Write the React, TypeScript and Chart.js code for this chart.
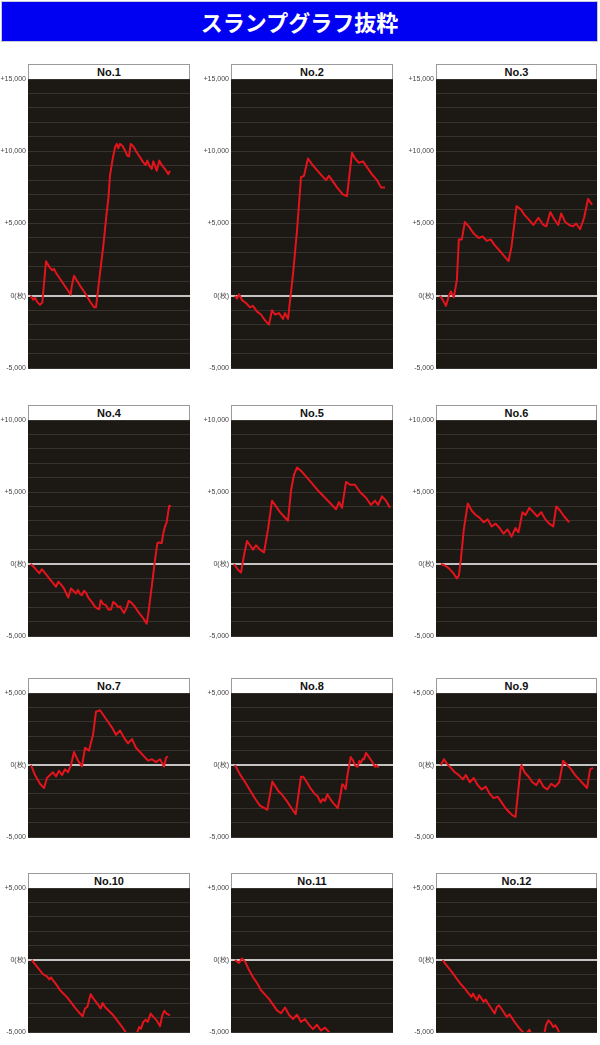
import React, { useEffect, useRef } from 'react';
import { Chart, registerables } from 'chart.js';

Chart.register(...registerables);

// ---------- DATA ----------
const HEADER_TEXT = 'スランプグラフ抜粋';
const PANEL_TITLES = ['No.1', 'No.2', 'No.3', 'No.4', 'No.5', 'No.6', 'No.7', 'No.8', 'No.9', 'No.10', 'No.11', 'No.12'];
// y range (枚) per row
const ROW_Y_MIN = [-5000, -5000, -5000, -5000];
const ROW_Y_MAX = [15000, 10000, 5000, 5000];
const Y_STEP = 1000;
const X_MAX = 162; // horizontal progress units across a plot

type Pt = [number, number];

const NO1: Pt[] = [[2.7,0],[5.3,-280],[7,-140],[9.3,-440],[12,-630],[14.3,-470],[18,2390],[22,1930],[24.3,1760],[26,1860],[28,1580],[30.3,1350],[42.7,70],[43.7,650],[46,1390],[48.7,1070],[52,700],[57,190],[62,-400],[66,-790],[68,-790],[69.3,-50],[72,1580],[75.3,3430],[78.7,5750],[80.3,6680],[82,8310],[84.7,9470],[87,10280],[88.7,10510],[90.3,10210],[92,10510],[94.7,10350],[97,10050],[99.3,9700],[101,9650],[102.7,10510],[105.3,10350],[108.7,9930],[112,9580],[115.3,9230],[117.7,9050],[119.3,9350],[121.3,9000],[123.7,8770],[125.3,9300],[127,9000],[128.7,8650],[131.3,9350],[133.7,9050],[137,8770],[140.3,8420],[142,8650]];
const NO2: Pt[] = [[4,0],[6,-200],[8,100],[11,-300],[15,-500],[19,-800],[22,-700],[26,-1100],[30,-1300],[34,-1700],[38,-2000],[41,-1000],[44,-1300],[48,-1200],[52,-1600],[54,-1200],[57,-1600],[62,1500],[66,4500],[70,8200],[73,8300],[77,9500],[81,9100],[86,8700],[91,8300],[95,8000],[98,8300],[101,8000],[106,7500],[112,7000],[116,6900],[121,9900],[124,9500],[128,9200],[132,9300],[137,8800],[141,8400],[146,8000],[150,7500],[154,7500]];
const NO3: Pt[] = [[4,0],[7,-300],[10,-700],[13,0],[15,300],[18,-100],[21,1100],[23,3900],[26,3900],[29,5100],[33,4800],[38,4300],[43,4000],[47,4100],[51,3800],[55,3900],[59,3500],[63,3200],[68,2800],[73,2400],[76,3400],[81,6200],[85,6000],[89,5600],[93,5300],[98,4900],[103,5400],[108,4900],[111,4800],[115,5800],[119,5300],[123,4900],[126,5700],[130,5100],[134,4900],[138,4800],[141,5000],[145,4600],[149,5400],[153,6700],[157,6300]];
const NO4: Pt[] = [[2.7,0],[7,-300],[11.3,-650],[13.7,-370],[15.3,-470],[18.7,-770],[22,-1070],[25.3,-1350],[28,-1580],[30.3,-1230],[32.7,-1400],[36,-1700],[40.3,-2330],[43,-1700],[45.3,-1860],[48,-2050],[50,-1810],[52,-2090],[54,-2160],[56,-1860],[58,-2000],[60.3,-2330],[63.7,-2630],[67,-2980],[69.3,-3090],[71.3,-3140],[72.7,-2510],[75.3,-2790],[78,-2860],[80.3,-3160],[83,-3160],[85.3,-2630],[88,-2790],[90.3,-3020],[92,-2930],[93.7,-3160],[96,-3400],[98.7,-3020],[100.7,-2560],[103.7,-2700],[107,-2980],[110.3,-3330],[113.7,-3630],[117,-3950],[118.7,-4140],[120.3,-3440],[123.7,-1580],[127,280],[129.3,1440],[131.3,1490],[133.7,1440],[135.3,2140],[137,2600],[138.7,2910],[140.3,3650],[141.3,4050],[143,4000]];
const NO5: Pt[] = [[3,0],[7,-400],[10,-600],[13,600],[16,1600],[19,1300],[22,1000],[25,1300],[29,1000],[33,800],[37,2400],[41,4400],[45,4000],[49,3600],[53,3300],[57,3000],[60,5100],[63,6200],[66,6700],[71,6400],[76,6000],[81,5600],[87,5100],[94,4600],[101,4100],[105,3800],[108,4300],[111,3900],[115,5700],[119,5500],[124,5500],[129,5000],[135,4600],[140,4100],[144,4400],[147,4100],[151,4700],[155,4400],[159,3900]];
const NO6: Pt[] = [[5,0],[9,-100],[13,-300],[17,-600],[21,-1000],[23,-800],[25,300],[28,2400],[32,4200],[36,3700],[40,3400],[44,3200],[48,2900],[52,3100],[56,2600],[60,2800],[64,2500],[68,2100],[72,2400],[76,1900],[80,2500],[83,2200],[87,3600],[90,3400],[94,3900],[98,3600],[102,3300],[106,3600],[110,3100],[114,2800],[118,2600],[121,4000],[125,3700],[129,3300],[134,2900]];
const NO7: Pt[] = [[3,0],[7,-700],[12,-1300],[16,-1600],[19,-900],[22,-700],[25,-500],[28,-800],[31,-400],[34,-700],[37,-300],[40,-500],[43,0],[46,900],[50,300],[54,-100],[57,1200],[61,1000],[65,2100],[68,3700],[72,3800],[76,3400],[80,3000],[84,2600],[88,2100],[92,2400],[96,1900],[100,1500],[104,1800],[108,1200],[112,900],[116,600],[120,300],[124,400],[128,200],[132,400],[136,-100],[138,500],[140,600]];
const NO8: Pt[] = [[4,0],[9,-650],[14,-1180],[19,-1750],[24,-2330],[29,-2830],[34,-3020],[36.3,-3110],[41.3,-1150],[44,-1450],[47.3,-1800],[50.7,-2030],[55.7,-2490],[60.7,-3020],[64.7,-3410],[70,-810],[72.3,-810],[75.7,-1180],[79,-1570],[84,-2030],[86.3,-2140],[89.7,-2600],[91.7,-2370],[94,-2490],[96.3,-2030],[99,-2330],[102.3,-2650],[106.7,-3000],[109,-2260],[111.3,-1340],[113,-1450],[114.7,-1680],[116.3,-760],[119.7,550],[122.3,280],[124.7,-70],[126.7,-120],[128.3,280],[130,160],[131.7,440],[133,390],[135,850],[137.3,620],[140.7,280],[144,-120],[145.7,-20],[147.3,-180]];
const NO9: Pt[] = [[5,0],[8,400],[11,100],[15,-200],[19,-500],[23,-700],[27,-1000],[30,-700],[34,-1200],[38,-900],[42,-1400],[46,-1700],[50,-1500],[54,-2000],[58,-2300],[62,-2200],[66,-2600],[70,-3000],[74,-3300],[77,-3500],[80,-3600],[85,-300],[86,0],[89,-500],[93,-800],[97,-1200],[101,-1400],[104,-1000],[108,-1500],[112,-1700],[116,-1300],[120,-1500],[124,-1200],[128,300],[132,0],[136,-300],[140,-700],[144,-1000],[148,-1300],[152,-1600],[155,-300],[158,-200]];
const NO10: Pt[] = [[3.7,0],[7,-280],[10.3,-580],[13.7,-880],[16.3,-1050],[18.7,-1120],[21.3,-1350],[23,-1210],[25.3,-1440],[28.7,-1740],[32,-2090],[35.3,-2330],[38.7,-2560],[42.7,-2910],[47,-3300],[52,-3720],[54.7,-3910],[57,-3370],[59.3,-3260],[62.7,-2370],[65.3,-2670],[68.7,-2980],[72.7,-3370],[74.7,-2980],[77,-3260],[80.3,-3490],[85.3,-3840],[90.3,-4300],[95.3,-4770],[98.7,-5120],[104,-5500],[109.3,-5000],[111.3,-4650],[113,-4770],[115.3,-4300],[117.7,-4140],[119.7,-4300],[122.7,-3720],[125.3,-3950],[128.7,-4190],[132,-4600],[134.3,-3840],[136.3,-3530],[138.7,-3720],[142,-3840]];
const NO11: Pt[] = [[4,0],[8,-200],[11,100],[14,-100],[18,-700],[22,-1200],[26,-1600],[30,-2100],[34,-2400],[38,-2700],[42,-3100],[46,-3500],[50,-3700],[54,-3300],[58,-3800],[62,-4100],[66,-3800],[70,-4300],[74,-4100],[78,-4500],[82,-4800],[86,-4500],[90,-4900],[94,-4700],[98,-5000],[102,-5500]];
const NO12: Pt[] = [[6.7,0],[9,-230],[12.3,-510],[15.7,-810],[19,-1120],[22.3,-1440],[25.7,-1740],[29,-1980],[32.3,-2280],[35.7,-2560],[37.3,-2330],[39,-2560],[41.3,-2790],[43.3,-2440],[45.7,-2670],[48,-2910],[50,-2740],[52.3,-3020],[55.7,-3370],[59,-3720],[61.3,-3260],[63.3,-3140],[65.7,-3370],[69,-3720],[71.3,-3950],[74,-3770],[75.7,-3950],[79,-4300],[82.3,-4600],[85.7,-4880],[89,-5120],[91.3,-5070],[94,-4840],[95.7,-5120],[103,-5500],[109,-5120],[110.7,-4530],[113,-4190],[115.7,-4370],[118,-4650],[120,-4530],[122.3,-4770],[124,-5070],[126,-5400]];

const SERIES: Pt[][] = [NO1, NO2, NO3, NO4, NO5, NO6, NO7, NO8, NO9, NO10, NO11, NO12];

// ---------- LAYOUT / STYLE ----------
const COL_LEFT = [28, 231, 436];
const COL_WIDTH = [162, 162, 161];
const ROW_TITLE_TOP = [64, 405, 678, 873];
const ROW_PLOT_TOP = [79, 420, 693, 888];
const ROW_PLOT_BOTTOM = [368, 636, 837, 1032];
const LABEL_W = 40;
const PAD = 8;
const BG = '#1c1814';
const GRID = '#37322e';
const ZERO = '#c4c4c4';
const RED = '#e3141c';

function fmtTick(v: number): string {
  if (v % 5000 !== 0) return '';
  if (v === 0) return '0(枚)';
  const s = Math.abs(v).toLocaleString('en-US');
  return (v > 0 ? '+' : '-') + s;
}

const bgPlugin = {
  id: 'plotBg',
  beforeDraw(chart: any) {
    const { ctx, chartArea: a } = chart;
    ctx.save();
    ctx.fillStyle = BG;
    ctx.fillRect(a.left, a.top, a.right - a.left, a.bottom - a.top);
    ctx.restore();
  },
};

function Panel({ idx }: { idx: number }) {
  const ref = useRef<HTMLCanvasElement>(null);
  const row = Math.floor(idx / 3);
  const col = idx % 3;
  const plotLeft = COL_LEFT[col];
  const plotW = COL_WIDTH[col];
  const plotTop = ROW_PLOT_TOP[row];
  const plotH = ROW_PLOT_BOTTOM[row] - plotTop;
  const cw = LABEL_W + plotW;
  const ch = plotH + PAD * 2;

  useEffect(() => {
    const chart = new Chart(ref.current as HTMLCanvasElement, {
      type: 'line',
      data: {
        datasets: [
          {
            data: SERIES[idx].map(([x, y]) => ({ x, y })),
            borderColor: RED,
            borderWidth: 2,
            pointRadius: 0,
            tension: 0,
            fill: false,
            borderJoinStyle: 'round',
          },
        ],
      },
      options: {
        animation: false,
        responsive: false,
        maintainAspectRatio: false,
        layout: { padding: { top: PAD, bottom: PAD, left: 0, right: 0 } },
        plugins: { legend: { display: false }, tooltip: { enabled: false }, title: { display: false } },
        scales: {
          x: { type: 'linear', min: 0, max: X_MAX, display: false },
          y: {
            type: 'linear',
            min: ROW_Y_MIN[row],
            max: ROW_Y_MAX[row],
            afterFit: (s: any) => {
              s.width = LABEL_W;
            },
            border: { display: false },
            grid: {
              drawTicks: false,
              color: (c: any) => (c.tick && c.tick.value === 0 ? ZERO : GRID),
              lineWidth: (c: any) => (c.tick && c.tick.value === 0 ? 2 : 1),
            },
            ticks: {
              stepSize: Y_STEP,
              maxTicksLimit: 100,
              autoSkip: false,
              padding: 2,
              color: '#444444',
              font: { size: 7, family: '"Liberation Sans", Arial, sans-serif' },
              callback: (v: any) => fmtTick(Number(v)),
            },
          },
        },
      } as any,
      plugins: [bgPlugin],
    });
    return () => chart.destroy();
  }, [idx]);

  return (
    <>
      <div
        style={{
          position: 'absolute',
          left: plotLeft,
          top: ROW_TITLE_TOP[row],
          width: plotW,
          height: plotTop - ROW_TITLE_TOP[row] + 1,
          boxSizing: 'border-box',
          border: '1px solid #9a9a9a',
          borderBottom: 'none',
          background: '#ffffff',
          color: '#111',
          font: 'bold 11px "Liberation Sans", Arial, sans-serif',
          textAlign: 'center',
          lineHeight: `${plotTop - ROW_TITLE_TOP[row] - 1}px`,
        }}
      >
        {PANEL_TITLES[idx]}
      </div>
      <canvas
        ref={ref}
        width={cw}
        height={ch}
        style={{ position: 'absolute', left: plotLeft - LABEL_W, top: plotTop - PAD, width: cw, height: ch }}
      />
    </>
  );
}

export default function App() {
  return (
    <div style={{ position: 'fixed', left: 0, top: 0, width: 600, height: 1045, background: '#fff', overflow: 'hidden' }}>
      <div
        style={{
          position: 'absolute',
          left: 1,
          top: 1,
          width: 597,
          height: 41,
          boxSizing: 'border-box',
          border: '1px solid #c8c8d8',
          background: '#0000f2',
          color: '#fff',
          font: 'bold 22px "Noto Sans CJK JP", sans-serif',
          textAlign: 'center',
          lineHeight: '39px',
        }}
      >
        {HEADER_TEXT}
      </div>
      {PANEL_TITLES.map((_, i) => (
        <Panel key={i} idx={i} />
      ))}
    </div>
  );
}
